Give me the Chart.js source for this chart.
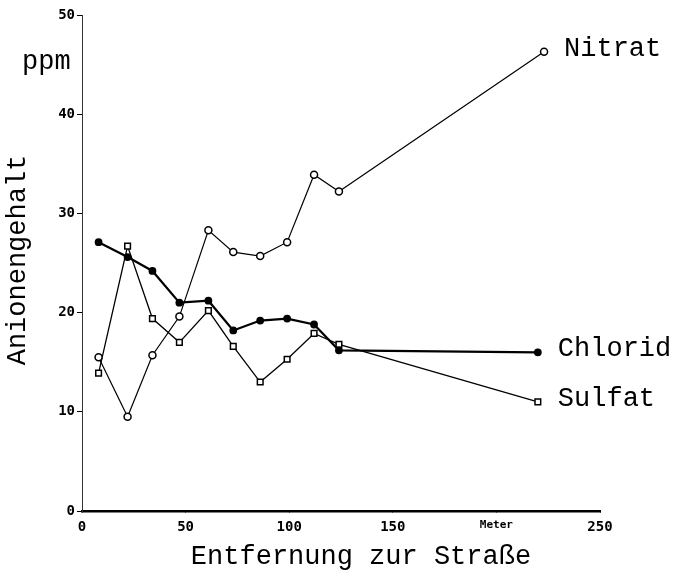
<!DOCTYPE html>
<html>
<head>
<meta charset="utf-8">
<script src="https://cdn.jsdelivr.net/npm/chart.js@4"></script>
<style>
  body { margin: 0; background: #fff; }
  #wrap { width: 677px; height: 584px; }
</style>
</head>
<body>
<div id="wrap"><canvas id="anionChart" width="677" height="584"></canvas></div>
<script>
// distances (m) of the sampling points, shared by all three series
const abstand = [8, 22, 34, 47, 61, 73, 86, 99, 112, 124];
const nitratEnde = 223;
const chloridEnde = 220;
const sulfatEnde = 220;

const nitrat = [15.5, 9.5, 15.7, 19.6, 28.3, 26.1, 25.7, 27.1, 33.9, 32.2, 46.3];
const chlorid = [27.1, 25.6, 24.2, 21.0, 21.2, 18.2, 19.2, 19.4, 18.8, 16.2, 16.0];
const sulfat = [13.9, 26.7, 19.4, 17.0, 20.2, 16.6, 13.0, 15.3, 17.9, 16.8, 11.0];

const xTicks = [0, 50, 100, 150, 200, 250];
const xTickLabels = ["0", "50", "100", "150", "Meter", "250"];
const yTicks = [0, 10, 20, 30, 40, 50];

const monoFont = '"Liberation Mono", "DejaVu Sans Mono", monospace';
const tickFont = '"DejaVu Sans Mono", monospace';

function punkte(werte, ende) {
  return werte.map((v, i) => ({ x: i < abstand.length ? abstand[i] : ende, y: v }));
}

// writes series names next to their last point, plus the axis titles
const beschriftung = {
  id: "beschriftung",
  afterDatasetsDraw(chart) {
    const ctx = chart.ctx;
    const area = chart.chartArea;
    ctx.save();
    ctx.fillStyle = "#000";
    ctx.font = "27px " + monoFont;
    ctx.textBaseline = "middle";
    ctx.textAlign = "left";
    chart.data.datasets.forEach((ds, i) => {
      const pts = chart.getDatasetMeta(i).data;
      const last = pts[pts.length - 1];
      ctx.fillText(ds.label, last.x + 20, last.y - 3);
    });

    ctx.textAlign = "center";
    ctx.fillText("Entfernung zur Straße", area.left + (area.right - area.left) / 2 + 20, 557);
    ctx.textAlign = "left";
    ctx.fillText("ppm", 22, 62);

    ctx.translate(18, 260);
    ctx.rotate(-Math.PI / 2);
    ctx.textAlign = "center";
    ctx.fillText("Anionengehalt", 0, 0);
    ctx.restore();
  },
};

new Chart(document.getElementById("anionChart"), {
  type: "line",
  data: {
    datasets: [
      {
        label: "Nitrat",
        data: punkte(nitrat, nitratEnde),
        borderColor: "#000",
        backgroundColor: "#fff",
        borderWidth: 1.2,
        pointStyle: "circle",
        pointRadius: 3.5,
        pointBorderWidth: 1.5,
        tension: 0,
      },
      {
        label: "Chlorid",
        data: punkte(chlorid, chloridEnde),
        borderColor: "#000",
        backgroundColor: "#000",
        borderWidth: 2.2,
        pointStyle: "circle",
        pointRadius: 2.8,
        tension: 0,
      },
      {
        label: "Sulfat",
        data: punkte(sulfat, sulfatEnde),
        borderColor: "#000",
        backgroundColor: "#fff",
        borderWidth: 1.3,
        pointStyle: "rect",
        pointRadius: 4,
        pointBorderWidth: 1.5,
        tension: 0,
      },
    ],
  },
  options: {
    responsive: false,
    animation: false,
    layout: { padding: { top: 15, right: 77, left: 0, bottom: 0 } },
    plugins: {
      legend: { display: false },
      tooltip: { enabled: false },
    },
    scales: {
      x: {
        type: "linear",
        min: 0,
        max: 250,
        afterBuildTicks: (scale) => {
          scale.ticks = xTicks.map((v) => ({ value: v }));
        },
        afterFit: (scale) => {
          scale.height = 73;
        },
        ticks: {
          color: "#000",
          padding: 6,
          maxRotation: 0,
          callback: (v) => xTickLabels[xTicks.indexOf(v)],
          font: (c) =>
            c.tick && c.tick.value === 200
              ? { family: tickFont, size: 11, weight: "bold" }
              : { family: tickFont, size: 14, weight: "bold" },
        },
        grid: { drawOnChartArea: false, tickLength: 2, color: "#000" },
        border: { display: true, color: "#000", width: 2.5 },
      },
      y: {
        min: 0,
        max: 50,
        afterBuildTicks: (scale) => {
          scale.ticks = yTicks.map((v) => ({ value: v }));
        },
        afterFit: (scale) => {
          scale.width = 82;
        },
        ticks: {
          color: "#000",
          padding: 2,
          font: { family: tickFont, size: 14, weight: "bold" },
        },
        grid: { drawOnChartArea: false, tickLength: 5, color: "#000" },
        border: { display: true, color: "#333", width: 1, dash: [9, 2, 2, 2] },
      },
    },
  },
  plugins: [beschriftung],
});
</script>
</body>
</html>
